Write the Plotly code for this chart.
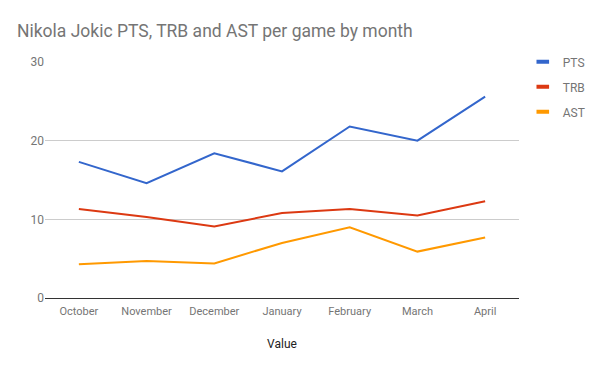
import plotly.graph_objects as go

months = ["October", "November", "December", "January", "February", "March", "April"]
pts = [17.3, 14.6, 18.4, 16.1, 21.8, 20.0, 25.6]
trb = [11.3, 10.3, 9.1, 10.8, 11.3, 10.5, 12.3]
ast = [4.3, 4.7, 4.4, 7.0, 9.0, 5.9, 7.7]
y_ticks = [0, 10, 20, 30]

series = [("PTS", pts, "#3366cc"), ("TRB", trb, "#dc3912"), ("AST", ast, "#ff9900")]

fig = go.Figure()
for name, vals, color in series:
    fig.add_trace(go.Scatter(
        x=months, y=vals, name=name, mode="lines",
        line=dict(color=color, width=2), legendgroup=name, showlegend=False,
    ))
# legend swatches (short thick bars like the original)
for name, vals, color in series:
    fig.add_trace(go.Scatter(
        x=[None], y=[None], name=name, mode="markers", legendgroup=name,
        marker=dict(symbol="line-ew", size=9, color=color,
                    line=dict(color=color, width=4)),
    ))

fig.update_layout(
    width=600, height=371,
    paper_bgcolor="white", plot_bgcolor="white",
    font=dict(family="Roboto", size=12, color="#757575"),
    margin=dict(l=45, r=81, t=62, b=73, autoexpand=False),
    title=dict(text="Nikola Jokic PTS, TRB and AST per game by month",
               x=17/600, xanchor="left", xref="container",
               y=1-31/371, yanchor="middle", yref="container",
               font=dict(size=17.5, color="#757575", family="Roboto")),
    xaxis=dict(showgrid=False, showline=False, ticks="outside", ticklen=3,
               tickcolor="rgba(0,0,0,0)", tickfont=dict(size=11, color="#757575"),
               title=dict(text="Value", font=dict(size=12, color="#222222"), standoff=22),
               range=[-0.5, 6.5]),
    yaxis=dict(range=[0, 30], tickvals=y_ticks, showgrid=True, gridcolor="#cccccc",
               zeroline=True, zerolinecolor="#333333", zerolinewidth=1,
               ticks="", tickfont=dict(size=12, color="#757575"), showline=False),
    legend=dict(x=1.008, y=1.062, xanchor="left", yanchor="top",
                font=dict(size=12, color="#757575"), itemwidth=30,
                tracegroupgap=6, bgcolor="rgba(0,0,0,0)"),
    showlegend=True,
)

fig.write_html("out.html", config={"displayModeBar": False},
               post_script="document.body.style.margin='0';document.body.style.overflow='hidden';")
